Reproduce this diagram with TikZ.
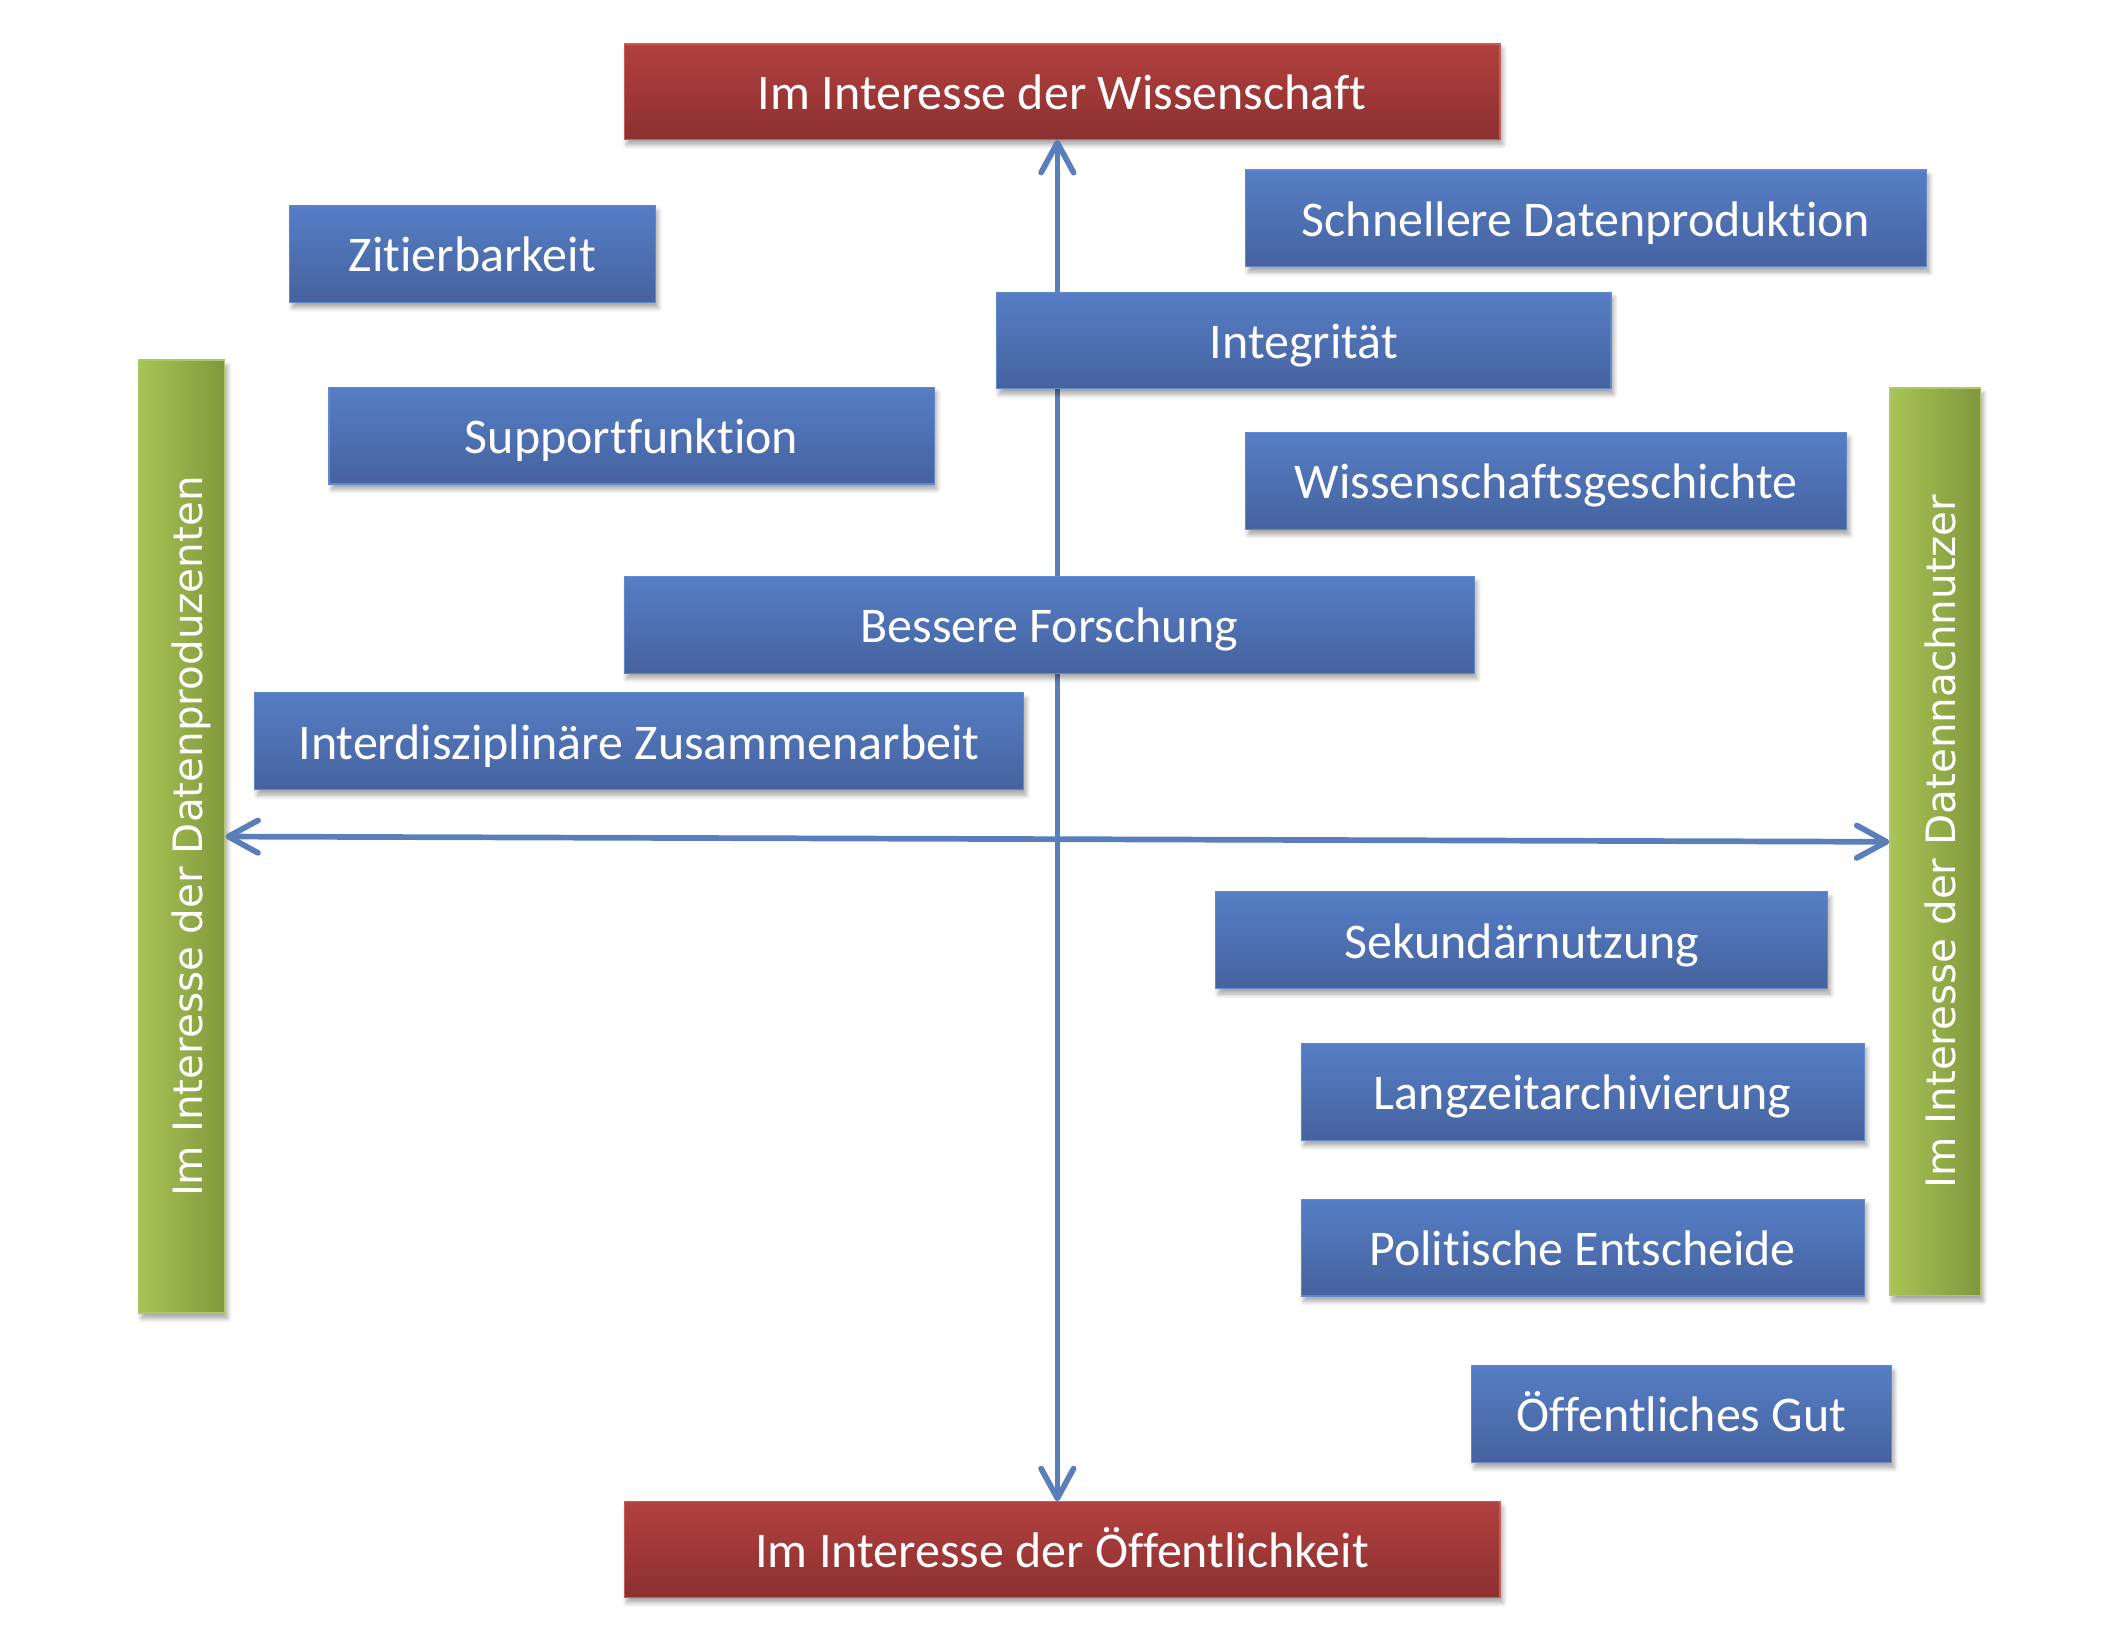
\documentclass[tikz,border=0pt]{standalone}
\usepackage{fontspec}
\setmainfont{Carlito}[Ligatures=NoCommon]
\newfontfamily\barfont{DejaVu Sans}
\usetikzlibrary{arrows.meta, shadows, shadows.blur}
\definecolor{boxtop}{RGB}{85,126,198}
\definecolor{boxbot}{RGB}{70,98,158}
\definecolor{boxline}{RGB}{100,136,204}
\definecolor{redtop}{RGB}{178,64,62}
\definecolor{redbot}{RGB}{140,48,48}
\definecolor{redline}{RGB}{196,92,90}
\definecolor{greenl}{RGB}{168,196,84}
\definecolor{greenr}{RGB}{128,152,62}
\definecolor{greenline}{RGB}{176,200,100}
\definecolor{axisblue}{RGB}{90,126,186}

\tikzset{
  aspect/.style={draw=boxline, line width=0.5pt, top color=boxtop, bottom color=boxbot,
    text=white, font=\fontsize{21}{25}\selectfont, minimum height=1.43cm, inner sep=0pt,
    text height=15pt, text depth=0pt,
    blur shadow={shadow xshift=0.4mm, shadow yshift=-0.8mm, shadow blur steps=6, shadow opacity=35}},
  goal/.style={aspect, draw=redline, top color=redtop, bottom color=redbot, minimum height=1.41cm},
  bar/.style={aspect, rotate=90, draw=greenline, left color=greenl, right color=greenr,
    font=\barfont\fontsize{17}{20}\selectfont, text height=17pt, text depth=0pt},
  axis/.style={draw=axisblue, line width=2.4pt, <->,
    >={Straight Barb[length=4.4mm, width=4.8mm, round]}}
}

\begin{document}
\begin{tikzpicture}[x=0.02cm, y=-0.02cm]
  \useasboundingbox (0,0) rectangle (1560,1207.5);
  % the four poles
  \node[goal, minimum width=12.94cm] (sci) at (784.5,67.7) {Im Interesse der Wissenschaft};
  \node[goal, minimum width=12.94cm] (pub) at (784.5,1144.5) {Im Interesse der Öffentlichkeit};
  \node[bar, minimum width=14.08cm, minimum height=1.27cm] (prod) at (134.3,617.9) {Im Interesse der Datenproduzenten};
  \node[bar, minimum width=13.41cm, minimum height=1.34cm] (user) at (1429.5,621.8) {Im Interesse der Datennachnutzer};
  % axes
  \draw[axis] ([xshift=-0.07cm]pub.north) -- ([xshift=-0.07cm]sci.south);
  \draw[axis] (prod.south) -- (user.north);
  % aspects, left side
  \node[aspect, minimum width=5.4cm] (cit) at (349,187.5) {Zitierbarkeit};
  \node[aspect, minimum width=8.94cm] (supp) at (466.5,321.8) {Supportfunktion};
  \node[aspect, minimum width=11.36cm] (inter) at (472,547.5) {Interdisziplinäre Zusammenarbeit};
  % aspects, on the axis
  \node[aspect, minimum width=9.08cm] (integ) at (963,251.5) {Integrität};
  \node[aspect, minimum width=12.56cm] (better) at (775,461.5) {Bessere Forschung};
  % aspects, right side
  \node[aspect, minimum width=10.06cm] (fast) at (1171.5,161.3) {Schnellere Datenproduktion};
  \node[aspect, minimum width=8.88cm] (hist) at (1142,355.3) {Wissenschaftsgeschichte};
  \node[aspect, minimum width=9.04cm] (second) at (1124,694.5) {Sekundärnutzung};
  \node[aspect, minimum width=8.32cm] (archive) at (1169,806.5) {Langzeitarchivierung};
  \node[aspect, minimum width=8.32cm] (policy) at (1169,921.5) {Politische Entscheide};
  \node[aspect, minimum width=6.2cm] (good) at (1242,1044.5) {Öffentliches Gut};
\end{tikzpicture}
\end{document}
